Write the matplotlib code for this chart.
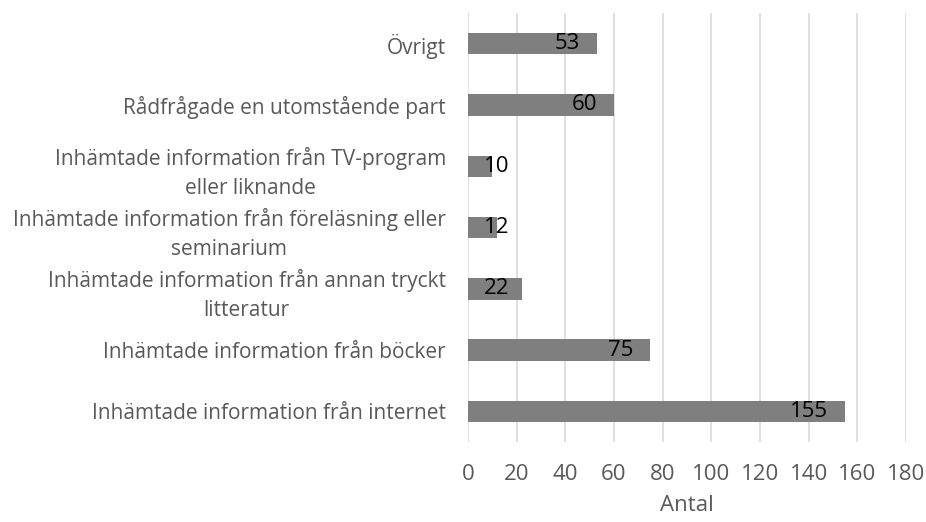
import matplotlib
matplotlib.use("Agg")
import matplotlib.pyplot as plt

plt.rcParams['font.family'] = ['Open Sans', 'DejaVu Sans']

categories = [
    "Inhämtade information från internet",
    "Inhämtade information från böcker",
    "Inhämtade information från annan tryckt\nlitteratur",
    "Inhämtade information från föreläsning eller\nseminarium",
    "Inhämtade information från TV-program\neller liknande",
    "Rådfrågade en utomstående part",
    "Övrigt",
]
values = [155, 75, 22, 12, 10, 60, 53]
xticks = [0, 20, 40, 60, 80, 100, 120, 140, 160, 180]
xlabel = "Antal"

fig = plt.figure(figsize=(9.26, 5.22), dpi=100)
ax = fig.add_axes([0.5054, 0.1533, 0.4730, 0.8217])

ypos = range(len(categories))
ax.barh(ypos, values, height=0.35, color='#7f7f7f', zorder=3)

# datalabels at inside end, pushed right when the bar is too short
for y, v in zip(ypos, values):
    if v < 25:
        ax.text(6.6, y, str(v), ha='left', va='center', fontsize=16, color='black', zorder=4)
    else:
        ax.text(v - 7, y, str(v), ha='right', va='center', fontsize=16, color='black', zorder=4)

ax.set_xlim(0, 180)
ax.set_ylim(-0.5, len(categories) - 0.5)
ax.set_xticks(xticks)
ax.set_xticklabels([str(t) for t in xticks], fontsize=16, color='#595959')
ax.set_yticks(list(ypos))
ax.set_yticklabels(categories, fontsize=15, color='#595959')
for lbl in ax.get_yticklabels():
    lbl.set_multialignment('center')
    lbl.set_linespacing(1.5)
ax.tick_params(axis='both', length=0)
ax.tick_params(axis='y', pad=16)
ax.tick_params(axis='x', pad=16)
ax.grid(axis='x', color='#d9d9d9', linewidth=1.2, zorder=0)
for s in ax.spines.values():
    s.set_visible(False)
ax.set_xlabel(xlabel, fontsize=16, color='#595959', labelpad=7)

fig.savefig("out.png", dpi=100)
